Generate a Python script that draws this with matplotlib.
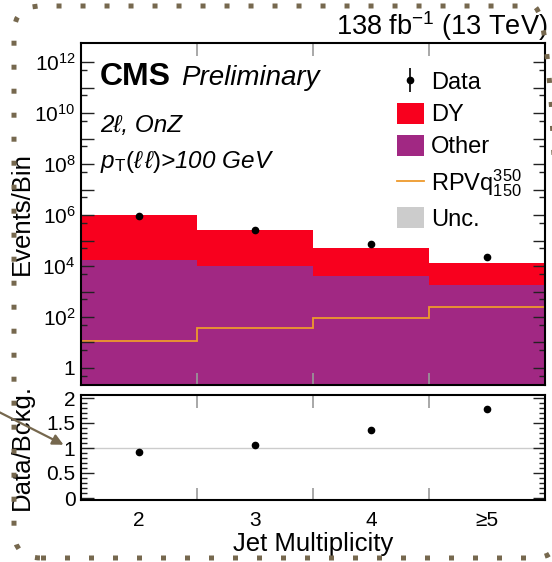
import matplotlib
matplotlib.use("Agg")
import matplotlib.pyplot as plt
import numpy as np
from matplotlib.lines import Line2D
from matplotlib.patches import Patch, FancyBboxPatch, FancyArrowPatch
from matplotlib.ticker import FixedLocator, FuncFormatter, MultipleLocator

plt.rcParams.update({
    "font.family": ["Liberation Sans", "DejaVu Sans"],
    "mathtext.fontset": "custom",
    "mathtext.rm": "Liberation Sans",
    "mathtext.it": "Liberation Sans:italic",
    "mathtext.bf": "Liberation Sans:bold",
})

# --- data ---
JET_LABELS = ["2", "3", "4", "≥5"]
BIN_EDGES = [0, 1, 2, 3, 4]
OTHER = [1.65e4, 1.0e4, 3.9e3, 1.75e3]
DY = [9.8e5, 2.5e5, 4.9e4, 1.18e4]
RPV = [11.6, 37, 90, 240]
DATA = [8.9e5, 2.6e5, 7.2e4, 2.2e4]
RATIO = [0.93, 1.07, 1.36, 1.78]

# --- style ---
RED = "#F8001E"
PURPLE = "#A12883"
ORANGE = "#EE9A2C"
UNC = "#CCCCCC"
DECO = "#76684E"
TICK_GRAY = "#999999"

W, H = 552, 562
fig = plt.figure(figsize=(W / 100, H / 100), dpi=100)
ax = fig.add_axes([81 / W, 1 - 385 / H, 464 / W, 342 / H])
rax = fig.add_axes([81 / W, 1 - 500 / H, 464 / W, 105 / H])

centers = np.arange(len(JET_LABELS)) + 0.5
other = np.array(OTHER)
total = other + np.array(DY)

# stacked backgrounds
ax.stairs(other, BIN_EDGES, baseline=1e-3, fill=True, color=PURPLE, lw=0)
ax.stairs(total, BIN_EDGES, baseline=other, fill=True, color=RED, lw=0)
ax.stairs(RPV, BIN_EDGES, baseline=None, color=ORANGE, lw=1.3)
ax.plot(centers, DATA, "o", color="k", ms=4.5, zorder=5)

ax.set_yscale("log")
ax.set_xlim(0, 4)
ax.set_ylim(0.215, 5.6e12)


def _log_label(v, pos):
    k = int(round(np.log10(v)))
    if k % 2:
        return ""
    return "1" if k == 0 else f"$10^{{{k}}}$"


ax.yaxis.set_major_locator(FixedLocator([10.0 ** k for k in range(0, 13)]))
ax.yaxis.set_major_formatter(FuncFormatter(_log_label))
ax.yaxis.set_minor_locator(FixedLocator([5 * 10.0 ** k for k in range(-1, 12)]))
ax.yaxis.set_minor_formatter(FuncFormatter(lambda v, p: ""))
ax.set_xticks([1, 2, 3], labels=[])
ax.set_ylabel("Events/Bin", fontsize=18.5)
ax.yaxis.set_label_coords(-0.101, 0.5)

# ratio panel
rax.axhline(1, color="#cccccc", lw=1, zorder=0)
rax.plot(centers, RATIO, "o", color="k", ms=4.5)
rax.set_xlim(0, 4)
rax.set_ylim(-0.04, 2.06)
rax.yaxis.set_major_locator(FixedLocator([0, 0.5, 1, 1.5, 2]))
rax.yaxis.set_major_formatter(FuncFormatter(lambda v, p: f"{v:g}"))
rax.yaxis.set_minor_locator(MultipleLocator(0.1))
rax.set_xticks([1, 2, 3], labels=[])
rax.set_xticks(centers, labels=JET_LABELS, minor=True)
rax.tick_params(axis="x", which="minor", length=0, pad=8, labelsize=15)
rax.set_ylabel("Data/Bckg.", fontsize=18.5)
rax.yaxis.set_label_coords(-0.101, 0.5)
rax.set_xlabel("Jet Multiplicity", fontsize=18.5)
rax.xaxis.set_label_coords(0.5, -0.30)

for a in (ax, rax):
    a.tick_params(axis="y", which="both", direction="in", left=True, right=True,
                  labelsize=15, pad=4, color="#222222", width=1)
    a.tick_params(axis="y", which="major", length=9)
    a.tick_params(axis="y", which="minor", length=4.5)
    a.tick_params(axis="x", which="major", direction="in", top=True, bottom=True,
                  length=9, color=TICK_GRAY, width=1.2)
    for s in a.spines.values():
        s.set_linewidth(1.5)
        s.set_zorder(6)

# texts
ax.text(0.041, 0.877, "CMS", transform=ax.transAxes, fontsize=23,
        fontweight="bold", va="baseline")
ax.text(0.2155, 0.877, "Preliminary", transform=ax.transAxes, fontsize=20,
        style="italic", va="baseline")
ax.text(0.041, 0.741, "2ℓ, OnZ", transform=ax.transAxes, fontsize=17.5,
        style="italic", va="baseline")
ax.text(0.041, 0.634, r"$p_{\mathrm{T}}(\ell\,\ell)$>100 GeV", transform=ax.transAxes,
        fontsize=17.5, style="italic", va="baseline")
ax.text(1.006, 1.023, r"138 fb$^{\mathregular{-1}}$ (13 TeV)", transform=ax.transAxes,
        fontsize=19.5, ha="right", va="baseline")

# legend
handles = [
    (Line2D([], [], color="k", marker="|", ms=17, mew=1.2, ls="none"),
     Line2D([], [], color="k", marker="o", ms=4.5, ls="none")),
    Patch(facecolor=RED, edgecolor="none"),
    Patch(facecolor=PURPLE, edgecolor="none"),
    Line2D([], [], color=ORANGE, lw=1.3),
    Patch(facecolor=UNC, edgecolor="none"),
]
labels = ["Data", "DY", "Other", r"RPVq$^{350}_{150}$", "Unc."]
ax.legend(handles, labels, loc="upper left", bbox_to_anchor=(0.681, 0.920),
          frameon=False, fontsize=17, handlelength=1.14, handleheight=1.0,
          handletextpad=0.3, labelspacing=0.36, borderpad=0, borderaxespad=0)

# decorations: dotted rounded frame and arrow
px = fig.dpi_scale_trans
frame = FancyBboxPatch((14 / 100, (H - 558) / 100), (560 - 14) / 100, (558 - 6) / 100,
                       boxstyle="round,pad=0,rounding_size=0.27", transform=px,
                       fill=False, edgecolor=DECO, lw=3.6, linestyle=(0, (1, 3.8)),
                       capstyle="butt", clip_on=False)
fig.add_artist(frame)
arrow = FancyArrowPatch((-5 / 100, (H - 410) / 100), (66 / 100, (H - 446) / 100),
                        transform=px, arrowstyle="-|>", mutation_scale=16,
                        color=DECO, lw=1.6, clip_on=False)
fig.add_artist(arrow)

fig.savefig("out.png", dpi=100)
